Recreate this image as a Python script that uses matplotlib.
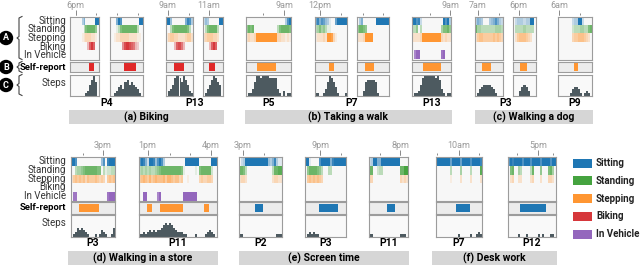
import numpy as np
import matplotlib.pyplot as plt
from matplotlib.patches import Rectangle
from matplotlib.lines import Line2D
from matplotlib.colors import to_rgb

plt.rcParams['font.family'] = ['Roboto', 'DejaVu Sans']

ACTIVITIES = ['Sitting', 'Standing', 'Stepping', 'Biking', 'In Vehicle']
COLORS = ['#1f77b4', '#45a33f', '#ff9632', '#d6373b', '#9467bd']
REPORT_COLORS = ['#1f77b4', '#45a33f', '#ff9632', '#e02828', '#9467bd']

# detected activity intensity per time bin (0 = none .. 9 = certain), one string per panel
SITTING = [
    "000000350000099", "0005970000000099", "99400000005873", "2430000099",
    "0000000000000000000379", "6857643100699999", "0350000009999999", "99782000000000009793",
    "35430003457532", "023332233990", "00000002339920000",
    "9970000000000004708999", "798529984797300000000009999999000000999",
    "0239999999999994358311", "99100007999958999999", "23995599999999990000",
    "99999996999969999799998", "798999979997999979999799",
]
STANDING = [
    "000000036777750", "0001367777777300", "00367777777630", "0367777300",
    "5767000000000003677776", "3464531100000000", "5776500000000000", "33503000000000046675",
    "74433333334443", "033334433330", "00000002333443367",
    "0034456777777660312233", "343434334567777777777610000010677777200",
    "7763000000000000037788", "05777765300330000000", "77002330000000007799",
    "00000003000040000300008", "067004300003700050006740",
]
STEPPING = [
    "000000123332210", "0012233332222110", "13443322223442", "2344433200",
    "2322399999999993322121", "1222329983100000", "2223999900000000", "22223999999999932322",
    "24554444454543", "024555543200", "00000003445554320",
    "2454545354445434304545", "456546456555646654553400100000343344300",
    "2332000000000000023322", "04545454300000000000", "33000000000000003232",
    "00000001000020000200002", "023002200002300020003320",
]
BIKING = [
    "000000000379700", "0000005898763200", "00003788630000", "0003797000",
    "", "", "", "", "", "", "", "", "", "", "", "", "", "",
]
VEHICLE = [
    "", "", "", "", "", "", "", "07990000000000089000", "", "", "",
    "0880000000000000008999", "009900000790000000000099999990000000000",
    "", "", "", "", "",
]
# step count per time bin (0..9)
STEPS = [
    "000000001257960", "0012453675654310", "02358998697521", "0135798650",
    "0113699899988883102011", "1100136986410001", "0002677776100000", "01125899999989731011",
    "01345555431000", "000245542000", "00000013443101210",
    "0124343210001013210014", "112123232334565654322211000010000123210",
    "1100000000000000000111", "01212110000000000000", "11000000000000001110",
    "00000000000100000100121", "000001000100000101000110",
]
# self-report spans: (start bin, end bin, activity index)
REPORTS = [
    [(9.7, 12.4, 3)], [(6.9, 12.8, 3)], [(4.2, 9.2, 3)], [(2.8, 6.2, 3)],
    [(5.2, 14.6, 2)], [(6.9, 9.6, 2)], [(3.9, 8.5, 2)], [(5.7, 14.8, 2)],
    [(3.3, 7.9, 2)], [(3.9, 7.5, 2)], [(8.0, 9.8, 2)],
    [(3.8, 14.0, 2)], [(3.9, 6.4, 2), (10.5, 22.0, 2), (32.5, 35.2, 2)],
    [(8.0, 12.5, 0)], [(7.0, 16.3, 0)], [(9.0, 13.2, 0)],
    [(10.0, 17.2, 0)], [(6.0, 19.0, 0)],
]
TICKS = [
    [3, 13.5], [3.5, 13.5], [1, 12], [3],
    [8.3, 18.6], [2.5, 13], [2.8, 13], [9, 19.5],
    [1.5, 12], [3], [0.5, 11],
    [5.8, 16], [4.3, 15.5, 25.5, 36],
    [1.8, 12.6], [7.5, 17.6], [5.5, 16],
    [0.7, 11.5, 21.7], [4.7, 15.2, 22.7],
]
TIME_LABELS = [
    [(3, '6pm')], [], [(1, '9am')], [(3, '11am')],
    [(18.6, '9am')], [(2.5, '12pm')], [], [(19.5, '9am')],
    [(1.5, '7am')], [(3, '6pm')], [(0.5, '6am')],
    [(16, '3pm')], [(4.3, '1pm'), (36, '4pm')],
    [(1.8, '3pm')], [(7.5, '9pm')], [(16, '8pm')],
    [(11.5, '10am')], [(15.2, '5pm')],
]
PARTICIPANTS = [('P4', [0, 1]), ('P13', [2, 3]), ('P5', [4]), ('P7', [5, 6]), ('P13', [7]),
                ('P3', [8, 9]), ('P9', [10]), ('P3', [11]), ('P11', [12]),
                ('P2', [13]), ('P3', [14]), ('P11', [15]), ('P7', [16]), ('P12', [17])]
GROUP_TITLES = ['(a) Biking', '(b) Taking a walk', '(c) Walking a dog',
                '(d) Walking in a store', '(e) Screen time', '(f) Desk work']

# layout in pixels
W, H = 640, 266
PANEL_X = [(70, 99), (110, 143), (166, 193), (203, 223),
           (246, 291), (315, 347), (357, 389), (412, 451),
           (475, 503), (513, 536), (558, 592),
           (71, 115), (139, 217),
           (239, 282), (305, 346), (369, 408),
           (436, 482), (508, 556)]
PANEL_ROW = [0] * 11 + [1] * 7
# activity top/bottom, report top/bottom, steps top/bottom, participant label y, group bar top/bottom
ROWS = [dict(act=(16.5, 59.5), rep=(61.5, 72.5), steps=(74.5, 95.5), plabel=103, bar=(110, 124)),
        dict(act=(157, 200.5), rep=(202, 213.5), steps=(215, 236.5), plabel=243, bar=(251, 265))]
GROUP_X = [(69, 224, 0), (245, 452, 0), (475, 593, 0), (68, 218, 1), (239, 409, 1), (432, 557, 1)]

fig = plt.figure(figsize=(W / 100, H / 100), dpi=100)


def box(x0, y0, x1, y1):
    return fig.add_axes([x0 / W, 1 - y1 / H, (x1 - x0) / W, (y1 - y0) / H])


def clean(ax, fc):
    ax.set_xticks([])
    ax.set_yticks([])
    ax.set_facecolor(fc)
    for s in ax.spines.values():
        s.set_color('#9c9c9c')
        s.set_linewidth(0.8)


for i, (x0, x1) in enumerate(PANEL_X):
    lay = ROWS[PANEL_ROW[i]]
    n = len(SITTING[i])
    rows = [SITTING[i], STANDING[i], STEPPING[i], BIKING[i], VEHICLE[i]]

    img = np.zeros((5, n, 4))
    for k, s in enumerate(rows):
        s = s.ljust(n, '0')
        img[k, :, :3] = to_rgb(COLORS[k])
        img[k, :, 3] = [int(c) / 9 for c in s[:n]]

    a0, a1 = lay['act']
    ax = box(x0, a0, x1, a1)
    ax.imshow(img, aspect='auto', interpolation='nearest', extent=(0, n, 5, 0))
    ax.set_xlim(0, n)
    ax.set_ylim(5, 0)
    clean(ax, '#f7f7f7')
    hp = a1 - a0
    tr = ax.get_xaxis_transform()
    ax.vlines(TICKS[i], 1 + 2 / hp, 1 + 4 / hp, transform=tr, clip_on=False,
              color='#8a8a8a', lw=0.7)
    for pos, lab in TIME_LABELS[i]:
        ax.vlines(pos, 1 + 2 / hp, 1 + 7 / hp, transform=tr, clip_on=False,
                  color='#8a8a8a', lw=0.7)
        ax.text(pos, 1 + 11 / hp, lab, transform=tr, ha='center', va='center',
                fontsize=6.5, color='#9a9a9a')

    r0, r1 = lay['rep']
    axr = box(x0, r0, x1, r1)
    for s, e, k in REPORTS[i]:
        axr.barh(0.5, e - s, left=s, height=0.72, color=REPORT_COLORS[k])
    axr.set_xlim(0, n)
    axr.set_ylim(0, 1)
    clean(axr, '#ececec')

    s0, s1 = lay['steps']
    axs = box(x0, s0, x1, s1)
    axs.bar(np.arange(n), [int(c) for c in STEPS[i]], width=1.0, align='edge',
            color='#4d5a60')
    axs.set_xlim(0, n)
    axs.set_ylim(0, 9.6)
    clean(axs, '#f9f9f9')

# row labels on the left of both rows
for lay in ROWS:
    a0, a1 = lay['act']
    for k, name in enumerate(ACTIVITIES):
        y = a0 + (k + 0.5) * (a1 - a0) / 5
        fig.text(66 / W, 1 - y / H, name, ha='right', va='center', fontsize=7, color='#333333')
    r0, r1 = lay['rep']
    fig.text(66 / W, 1 - (r0 + r1) / 2 / H, 'Self-report', ha='right', va='center',
             fontsize=6.8, fontweight='bold', color='black')
    s0, s1 = lay['steps']
    fig.text(66 / W, 1 - (s0 + 8) / H, 'Steps', ha='right', va='center', fontsize=7, color='#333333')

# participant labels
for lab, idx in PARTICIPANTS:
    xa = min(PANEL_X[j][0] for j in idx)
    xb = max(PANEL_X[j][1] for j in idx)
    y = ROWS[PANEL_ROW[idx[0]]]['plabel']
    fig.text((xa + xb) / 2 / W, 1 - y / H, lab, ha='center', va='center',
             fontsize=7.5, fontweight='bold')

# group title bars
for title, (xa, xb, r) in zip(GROUP_TITLES, GROUP_X):
    b0, b1 = ROWS[r]['bar']
    fig.add_artist(Rectangle((xa / W, 1 - b1 / H), (xb - xa) / W, (b1 - b0) / H,
                             transform=fig.transFigure, fc='#d6d6d6', ec='none'))
    fig.text((xa + xb) / 2 / W, 1 - (b0 + b1) / 2 / H, title, ha='center', va='center',
             fontsize=7.5, fontweight='bold')

# legend
for k, name in enumerate(ACTIVITIES):
    yc = 163 + k * 17.8
    fig.add_artist(Rectangle((573 / W, 1 - (yc + 4.5) / H), 19 / W, 9 / H,
                             transform=fig.transFigure, fc=COLORS[k], ec='none'))
    fig.text(596 / W, 1 - yc / H, name, ha='left', va='center', fontsize=7,
             fontweight='bold', color='#222222')


# A / B / C markers with braces
def brace(x, y0, y1):
    ym = (y0 + y1) / 2
    xs = [x + 5, x + 2, x + 2, x, x + 2, x + 2, x + 5]
    ys = [y0, y0 + 1.5, ym - 1.5, ym, ym + 1.5, y1 - 1.5, y1]
    fig.add_artist(Line2D([v / W for v in xs], [1 - v / H for v in ys],
                          transform=fig.transFigure, color='#444444', lw=0.8))


lay = ROWS[0]
for letter, (y0, y1) in zip('ABC', [lay['act'], lay['rep'], lay['steps']]):
    brace(17, y0, y1)
    fig.text(6 / W, 1 - (y0 + y1) / 2 / H, letter, ha='center', va='center', color='white',
             fontsize=6.5, fontweight='bold',
             bbox=dict(boxstyle='circle,pad=0.3', fc='black', ec='none'))

fig.savefig('out.png', dpi=100)
